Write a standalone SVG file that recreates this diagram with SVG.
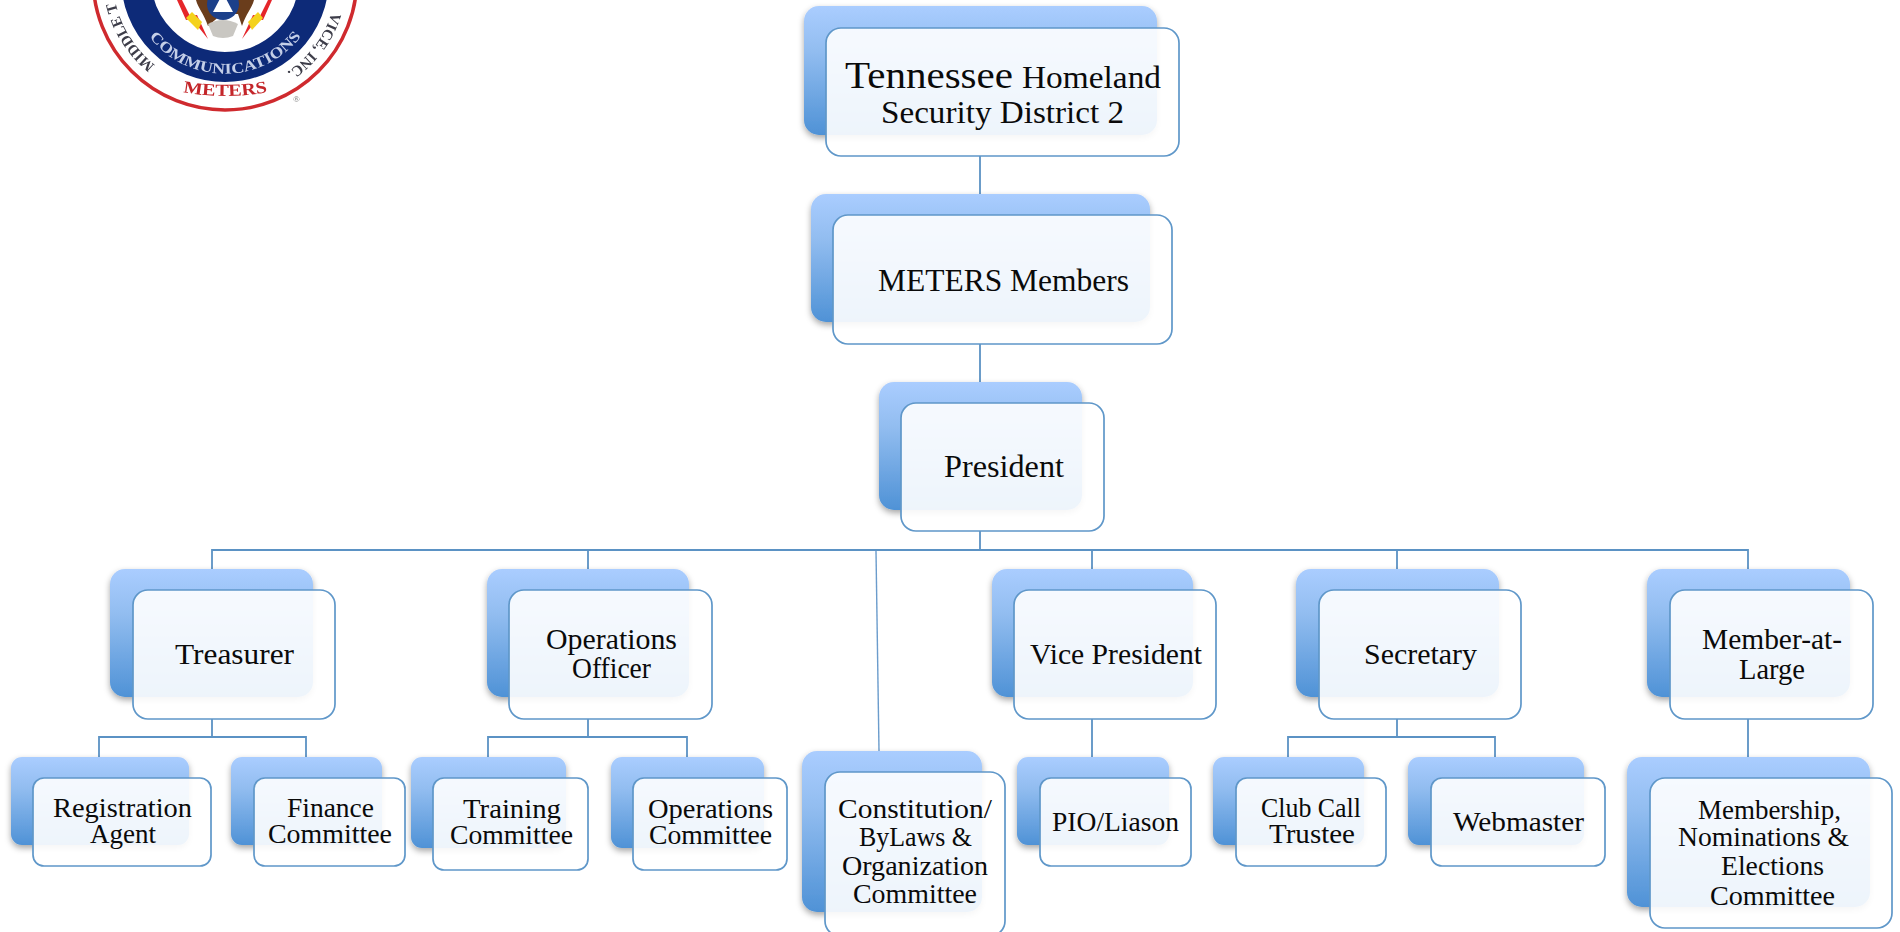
<svg xmlns="http://www.w3.org/2000/svg" width="1900" height="932" viewBox="0 0 1900 932">
<style>
.b{fill:url(#bg);filter:url(#sh)}
.f{fill:#fff;fill-opacity:.9;stroke:#5f97c9;stroke-width:1.7}
.c{fill:none;stroke:#5b92c4;stroke-width:1.8}
text{font-family:"Liberation Serif","Times New Roman",serif;fill:#0a0a0a;font-size:29px}
.s{font-size:26.500px}
.l{font-size:32px}
.seal{font-size:15px;font-weight:bold;fill:#3c3c48}
</style>
<defs>
<linearGradient id="bg" x1="0" y1="0" x2="0" y2="1"><stop offset="0" stop-color="#aacdff"/><stop offset=".35" stop-color="#92bdf0"/><stop offset="1" stop-color="#4f92d6"/></linearGradient>
<filter id="sh" x="-10%" y="-10%" width="125%" height="130%"><feDropShadow dx="0" dy="3" stdDeviation="3" flood-color="#000" flood-opacity=".35"/></filter>
<filter id="soft"><feGaussianBlur stdDeviation=".7"/></filter>
<path id="commArc" d="M148 35A96 96 0 0 0 302 35"/>
<path id="metersArc" d="M183 92Q226 100 268 92"/>
<path id="leftArc" d="M155 65A112 112 0 0 1 115 0"/>
<path id="rightArc" d="M335 0A112 112 0 0 1 287 72"/>
</defs>
<g id="logo" filter="url(#soft)">
<circle cx="225" cy="-22" r="132" fill="#fff" stroke="#cf2a2e" stroke-width="3.500"/>
<circle cx="225" cy="-22" r="89" fill="none" stroke="#0f2a78" stroke-width="30"/>
<path d="M196 0C198 8 204 14 208 26L222 14L238 14L242 26C246 14 252 8 254 0Z" fill="#6b3c1c"/>
<path d="M177 0L186 20L192 19L208 39L197 15L190 16L182 0Z" fill="#e5262c"/>
<path d="M272 0L263 20L257 19L242 39L253 15L260 16L268 0Z" fill="#e5262c"/>
<path d="M186 18L198 30L202 22L192 12Z" fill="#f4d21c"/>
<path d="M263 18L252 30L248 22L258 12Z" fill="#f4d21c"/>
<path d="M208 24Q223 16 238 24L233 36Q223 40 213 36Z" fill="#c9c7c2"/>
<circle cx="223" cy="4" r="16" fill="#1d3f8a"/>
<path d="M223 -7L233 12H213Z" fill="#fff"/>
<text class="seal" style="fill:#c4cfe8"><textPath href="#commArc" startOffset="2" textLength="175" lengthAdjust="spacingAndGlyphs">COMMUNICATIONS</textPath></text>
<text class="seal" style="font-size:17px;fill:#c4282c"><textPath href="#metersArc" textLength="85" lengthAdjust="spacingAndGlyphs">METERS</textPath></text>
<text class="seal"><textPath href="#leftArc">MIDDLE T</textPath></text>
<text class="seal" text-anchor="end"><textPath href="#rightArc" startOffset="100%">VICE, INC.</textPath></text>
<text x="293" y="102" style="font-size:9px;fill:#777">®</text>
</g>
<g id="connectors">
<path class="c" d="M980 156V194M980 344V382M980 531V550M212 569V550H1748V569M588 550V569M1092 550V569M1397 550V569"/>
<path d="M876 551L879 751" fill="none" stroke="#6b9ccc" stroke-width="1.400"/>
<path class="c" d="M212 719V737M99 757V737H306V757M588 719V737M488 757V737H687V757M1092 719V757M1397 719V737M1288 757V737H1495V757M1748 719V757"/>
</g>
<g id="n-district"><rect class="b" x="804" y="6" width="353" height="129" rx="15"/><rect class="f" x="826" y="28" width="353" height="128" rx="15"/>
<text x="845" y="88" textLength="168" lengthAdjust="spacingAndGlyphs" style="font-size:38px">Tennessee</text><text class="l" x="1022" y="88" textLength="139" lengthAdjust="spacingAndGlyphs">Homeland</text><text class="l" x="881" y="123" textLength="243" lengthAdjust="spacingAndGlyphs">Security District 2</text></g>
<g id="n-members"><rect class="b" x="811" y="194" width="339" height="128" rx="15"/><rect class="f" x="833" y="215" width="339" height="129" rx="15"/>
<text class="l" x="878" y="291" textLength="251" lengthAdjust="spacingAndGlyphs">METERS Members</text></g>
<g id="n-president"><rect class="b" x="879" y="382" width="203" height="128" rx="15"/><rect class="f" x="901" y="403" width="203" height="128" rx="15"/>
<text class="l" x="944" y="477" textLength="120" lengthAdjust="spacingAndGlyphs">President</text></g>
<g id="n-treasurer"><rect class="b" x="110" y="569" width="203" height="128" rx="15"/><rect class="f" x="133" y="590" width="202" height="129" rx="15"/>
<text x="175" y="664" textLength="119" lengthAdjust="spacingAndGlyphs">Treasurer</text></g>
<g id="n-ops-officer"><rect class="b" x="487" y="569" width="202" height="128" rx="15"/><rect class="f" x="509" y="590" width="203" height="129" rx="15"/>
<text x="546" y="649" textLength="131" lengthAdjust="spacingAndGlyphs">Operations</text><text x="572" y="678" textLength="79" lengthAdjust="spacingAndGlyphs">Officer</text></g>
<g id="n-vp"><rect class="b" x="992" y="569" width="201" height="128" rx="15"/><rect class="f" x="1014" y="590" width="202" height="129" rx="15"/>
<text x="1030" y="664" textLength="172" lengthAdjust="spacingAndGlyphs">Vice President</text></g>
<g id="n-secretary"><rect class="b" x="1296" y="569" width="203" height="128" rx="15"/><rect class="f" x="1319" y="590" width="202" height="129" rx="15"/>
<text x="1364" y="664" textLength="113" lengthAdjust="spacingAndGlyphs">Secretary</text></g>
<g id="n-member-large"><rect class="b" x="1647" y="569" width="203" height="128" rx="15"/><rect class="f" x="1670" y="590" width="203" height="129" rx="15"/>
<text x="1702" y="649" textLength="140" lengthAdjust="spacingAndGlyphs">Member-at-</text><text x="1739" y="679" textLength="66" lengthAdjust="spacingAndGlyphs">Large</text></g>
<g id="n-registration"><rect class="b" x="11" y="757" width="178" height="88" rx="11"/><rect class="f" x="33" y="778" width="178" height="88" rx="11"/>
<text class="s" x="53" y="817" textLength="139" lengthAdjust="spacingAndGlyphs">Registration</text><text class="s" x="90" y="843" textLength="66" lengthAdjust="spacingAndGlyphs">Agent</text></g>
<g id="n-finance"><rect class="b" x="231" y="757" width="151" height="88" rx="11"/><rect class="f" x="254" y="778" width="151" height="88" rx="11"/>
<text class="s" x="287" y="817" textLength="87" lengthAdjust="spacingAndGlyphs">Finance</text><text class="s" x="268" y="843" textLength="124" lengthAdjust="spacingAndGlyphs">Committee</text></g>
<g id="n-training"><rect class="b" x="411" y="757" width="155" height="91" rx="11"/><rect class="f" x="433" y="778" width="155" height="92" rx="11"/>
<text class="s" x="463" y="818" textLength="98" lengthAdjust="spacingAndGlyphs">Training</text><text class="s" x="450" y="844" textLength="123" lengthAdjust="spacingAndGlyphs">Committee</text></g>
<g id="n-operations"><rect class="b" x="611" y="757" width="153" height="91" rx="11"/><rect class="f" x="633" y="778" width="154" height="92" rx="11"/>
<text class="s" x="648" y="818" textLength="125" lengthAdjust="spacingAndGlyphs">Operations</text><text class="s" x="649" y="844" textLength="123" lengthAdjust="spacingAndGlyphs">Committee</text></g>
<g id="n-constitution"><rect class="b" x="802" y="751" width="180" height="161" rx="15"/><rect class="f" x="825" y="772" width="180" height="164" rx="15"/>
<text class="s" x="838" y="818" textLength="154" lengthAdjust="spacingAndGlyphs">Constitution/</text><text class="s" x="859" y="846" textLength="113" lengthAdjust="spacingAndGlyphs">ByLaws &amp;</text><text class="s" x="842" y="875" textLength="146" lengthAdjust="spacingAndGlyphs">Organization</text><text class="s" x="853" y="903" textLength="124" lengthAdjust="spacingAndGlyphs">Committee</text></g>
<g id="n-pio"><rect class="b" x="1017" y="757" width="152" height="88" rx="11"/><rect class="f" x="1040" y="778" width="151" height="88" rx="11"/>
<text class="s" x="1052" y="831" textLength="127" lengthAdjust="spacingAndGlyphs">PIO/Liason</text></g>
<g id="n-clubcall"><rect class="b" x="1213" y="757" width="151" height="88" rx="11"/><rect class="f" x="1236" y="778" width="150" height="88" rx="11"/>
<text class="s" x="1261" y="817" textLength="100" lengthAdjust="spacingAndGlyphs">Club Call</text><text class="s" x="1269" y="843" textLength="86" lengthAdjust="spacingAndGlyphs">Trustee</text></g>
<g id="n-webmaster"><rect class="b" x="1408" y="757" width="176" height="88" rx="11"/><rect class="f" x="1431" y="778" width="174" height="88" rx="11"/>
<text class="s" x="1453" y="831" textLength="131" lengthAdjust="spacingAndGlyphs">Webmaster</text></g>
<g id="n-membership"><rect class="b" x="1627" y="757" width="243" height="150" rx="15"/><rect class="f" x="1650" y="778" width="242" height="150" rx="15"/>
<text class="s" x="1698" y="819" textLength="143" lengthAdjust="spacingAndGlyphs">Membership,</text><text class="s" x="1678" y="846" textLength="171" lengthAdjust="spacingAndGlyphs">Nominations &amp;</text><text class="s" x="1721" y="875" textLength="103" lengthAdjust="spacingAndGlyphs">Elections</text><text class="s" x="1710" y="905" textLength="125" lengthAdjust="spacingAndGlyphs">Committee</text></g>
</svg>
